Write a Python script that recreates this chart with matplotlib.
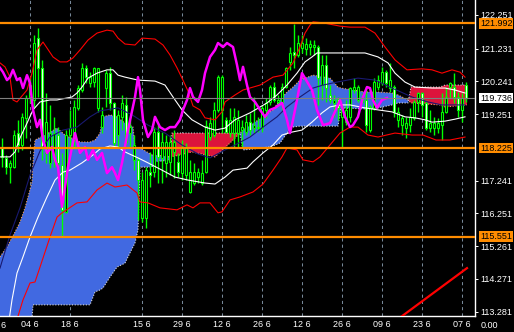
import matplotlib
matplotlib.use('Agg')
import matplotlib.pyplot as plt
import numpy as np

plt.rcParams['font.family'] = ['Liberation Sans', 'DejaVu Sans']

# daily candles, bar index 0..116
opens = [118.23, 117.93, 117.65, 117.65, 118.68, 118.32, 119.14, 119.77, 119.68, 121.55,
         120.65, 118.08, 117.78, 117.87, 118.62, 117.72, 116.30, 118.62, 118.47, 119.44,
         119.98, 120.65, 120.19, 120.22, 119.44, 118.86, 120.04, 120.49, 119.59, 118.62,
         119.17, 119.53, 118.68, 117.87, 117.87, 116.11, 116.11, 117.50, 117.50, 118.71,
         117.93, 117.78, 117.81, 118.11, 117.81, 117.47, 117.41, 116.90, 117.17, 117.35,
         117.17, 117.50, 118.56, 118.62, 119.38, 119.38, 119.08, 118.68, 118.68, 118.68,
         118.77, 118.71, 119.01, 118.83, 118.83, 118.83, 119.38, 119.62, 120.07, 119.62,
         119.62, 120.07, 120.83, 121.13, 121.04, 121.25, 121.22, 121.28, 121.28, 121.28,
         120.13, 120.74, 119.83, 119.59, 119.71, 119.17, 119.01, 119.17, 119.98, 119.68,
         119.62, 119.68, 118.77, 119.44, 120.07, 120.19, 120.52, 120.04, 120.07, 119.08,
         118.92, 118.83, 118.92, 119.14, 119.62, 119.89, 119.59, 118.83, 118.83, 118.83,
         118.92, 119.32, 120.07, 120.07, 119.77, 119.38, 120.13]
highs = [118.53, 118.02, 117.87, 118.77, 119.08, 119.29, 119.83, 120.37, 121.64, 121.85,
         120.89, 119.89, 119.53, 119.17, 118.86, 118.08, 118.77, 119.38, 119.68, 120.13,
         120.80, 120.74, 120.52, 120.68, 120.65, 119.47, 120.59, 120.68, 119.62, 119.38,
         119.83, 119.77, 119.08, 118.62, 117.96, 117.50, 117.65, 118.11, 118.86, 118.92,
         118.71, 118.62, 118.62, 118.77, 118.08, 118.47, 118.38, 117.87, 117.78, 117.62,
         117.87, 119.08, 119.17, 119.62, 120.43, 120.43, 119.17, 119.44, 119.44, 119.38,
         119.08, 119.23, 119.29, 119.77, 119.17, 119.53, 119.74, 120.13, 120.22, 119.83,
         120.19, 120.68, 121.28, 121.98, 121.64, 121.64, 121.55, 121.49, 121.49, 121.34,
         121.04, 121.04, 120.13, 119.83, 119.77, 119.53, 119.68, 120.07, 120.34, 120.13,
         119.89, 120.07, 119.53, 120.34, 120.43, 120.68, 120.59, 120.80, 120.13, 119.47,
         119.23, 119.17, 119.44, 119.68, 119.92, 119.92, 119.68, 119.38, 119.17, 119.14,
         119.89, 120.07, 120.22, 120.49, 119.92, 119.89, 120.22]
lows = [117.65, 117.44, 117.17, 117.62, 118.11, 118.17, 118.53, 119.59, 119.47, 119.77,
        117.87, 117.78, 117.62, 117.65, 117.35, 115.54, 116.27, 118.17, 118.23, 119.38,
        119.92, 120.19, 120.07, 120.07, 119.32, 118.68, 119.47, 119.38, 118.26, 118.26,
        118.77, 118.32, 118.26, 117.56, 116.05, 115.99, 115.81, 117.05, 117.35, 117.17,
        117.17, 117.35, 117.41, 117.32, 117.35, 117.26, 117.26, 116.87, 117.11, 117.17,
        117.11, 117.47, 118.47, 118.56, 119.32, 118.68, 118.68, 118.56, 118.23, 118.23,
        118.23, 118.62, 118.62, 118.68, 118.71, 118.71, 119.14, 119.53, 119.62, 119.53,
        119.38, 120.04, 120.59, 120.65, 120.98, 121.10, 121.04, 121.04, 121.04, 119.53,
        119.68, 119.62, 119.59, 119.17, 119.08, 118.23, 118.92, 119.01, 119.89, 119.62,
        119.59, 118.71, 118.71, 119.38, 119.98, 120.13, 120.07, 119.92, 119.17, 118.86,
        118.62, 118.53, 118.71, 119.08, 119.32, 119.17, 118.77, 118.71, 118.62, 118.68,
        118.47, 119.29, 119.74, 119.59, 119.17, 119.01, 119.62]
closes = [117.96, 117.65, 117.78, 118.62, 118.32, 119.17, 119.74, 120.13, 121.40, 120.65,
          118.23, 119.01, 118.68, 118.68, 117.78, 116.36, 118.62, 118.83, 119.47, 120.04,
          120.65, 120.37, 120.37, 120.65, 120.65, 119.23, 120.49, 119.59, 118.38, 119.23,
          119.59, 118.41, 118.86, 118.32, 117.26, 117.26, 117.56, 117.41, 118.71, 117.96,
          118.41, 118.41, 118.41, 118.41, 117.50, 118.23, 118.23, 117.50, 117.50, 117.50,
          117.47, 118.89, 118.98, 119.38, 120.37, 120.37, 118.71, 119.08, 119.17, 119.08,
          118.86, 119.01, 118.77, 118.92, 118.86, 119.44, 119.59, 120.07, 119.68, 119.68,
          120.07, 120.65, 121.10, 121.04, 121.40, 121.40, 121.37, 121.37, 121.34, 120.34,
          120.74, 120.04, 119.68, 119.68, 119.44, 119.47, 119.38, 120.04, 120.07, 120.07,
          119.74, 118.92, 119.47, 120.22, 120.28, 120.52, 120.19, 120.28, 119.32, 119.32,
          119.14, 118.98, 119.17, 119.62, 119.89, 119.53, 118.83, 118.98, 118.98, 118.98,
          119.32, 119.77, 120.19, 119.77, 119.38, 119.74, 119.74]

# bollinger bands (bar index, price)
bb_upper2 = [(-0.5, 120.80), (0.75, 120.68), (2, 120.37), (2.75, 119.68), (3.75, 119.62),
             (6.25, 119.98), (7.5, 120.49), (8.75, 121.19), (10.25, 121.43), (12.75, 120.98),
             (14.5, 120.83), (16.25, 120.83), (17.75, 120.95), (19.5, 121.19), (21.5, 121.49),
             (23.75, 121.70), (26.25, 121.79), (27.75, 121.76), (29, 121.55), (30.75, 121.37),
             (33.25, 121.34), (35, 121.55), (38.25, 121.52), (40.25, 121.34), (42, 121.04),
             (43.75, 120.65), (45, 120.34), (46.5, 119.95), (47.75, 119.50), (49.5, 119.38),
             (50.75, 119.14), (53.25, 119.08), (55, 119.32), (55.75, 119.62), (58.25, 119.83),
             (60.25, 119.98), (64.5, 120.13), (67.75, 120.37), (70.25, 120.43), (72.75, 120.80),
             (74.5, 121.28), (75.75, 121.70), (77, 121.94), (77.75, 122.04), (80.25, 122.01),
             (84.5, 121.91), (87, 121.88), (90.75, 121.88), (93.25, 121.70), (95.75, 121.28),
             (98.25, 120.89), (101.25, 120.59), (105, 120.62), (107.5, 120.59), (110, 120.49),
             (112.5, 120.59), (114.5, 120.52), (115.75, 120.37)]
bb_lower2 = [(3, 112.60), (4, 113.15), (5.25, 113.64), (7, 114.15), (8.25, 114.18), (9.5, 114.63),
             (12, 115.54), (13.75, 116.14), (15, 116.27), (18.75, 116.57), (21.25, 116.60),
             (23.75, 116.96), (26.25, 117.17), (28.25, 117.05), (31.25, 117.11), (33.75, 116.87),
             (34.5, 116.60), (36.5, 116.57), (39.5, 116.42), (43.75, 116.36), (46.25, 116.51),
             (47.75, 116.42), (49.5, 116.57), (52, 116.57), (54, 116.27), (55, 116.30),
             (57, 116.66), (59.5, 116.75), (62.75, 116.90), (65.25, 117.14), (67.75, 117.56),
             (70, 117.96), (71.25, 118.23), (73.75, 118.17), (75.25, 117.87), (77.75, 117.81),
             (79.5, 117.96), (82, 118.32), (84.5, 118.68), (87, 118.86), (89, 118.86),
             (91.5, 118.62), (94, 118.56), (98.25, 118.68), (102.5, 118.62), (105.25, 118.62),
             (108.5, 118.47), (112, 118.47), (115.75, 118.56)]
bb_upper1 = [(-0.5, 117.96), (2, 117.96), (3.25, 118.11), (4.5, 118.53), (6.25, 118.98),
             (7.75, 119.38), (9.5, 119.62), (12, 119.68), (13.75, 119.68), (16.25, 119.74),
             (17.5, 119.77), (18.75, 119.89), (20, 120.07), (21.5, 120.34), (23.75, 120.49),
             (26.25, 120.59), (27.75, 120.59), (29, 120.43), (30.75, 120.37), (34, 120.28),
             (38.25, 120.25), (40.75, 120.13), (42.75, 119.77), (45, 119.38), (47.5, 119.08),
             (50.75, 118.86), (53.25, 118.77), (55.75, 118.83), (58.25, 119.08), (62, 119.29),
             (66.25, 119.59), (68.75, 119.83), (71.25, 120.13), (73.75, 120.49), (75.75, 120.83),
             (77.5, 120.98), (78.75, 121.10), (82, 121.10), (87, 121.10), (90.75, 121.10),
             (94, 120.98), (96.5, 120.80), (98.25, 120.49), (100.75, 120.22), (103.25, 120.07),
             (107.5, 120.04), (110.75, 120.04), (113.25, 119.98), (115.75, 119.89)]
bb_lower1 = [(1.5, 112.80), (2.5, 113.64), (3.75, 114.45), (5.25, 114.94), (7, 115.54),
             (9, 116.14), (11.25, 116.75), (13.25, 117.26), (15.25, 117.50), (17, 117.56),
             (20, 117.78), (22.75, 118.02), (24.5, 118.20), (27, 118.29), (29, 118.26),
             (30.75, 118.11), (34, 117.93), (36.5, 117.78), (40, 117.56), (43.25, 117.35),
             (46.5, 117.26), (50.75, 117.17), (53.25, 117.14), (55.75, 117.35), (57.75, 117.56),
             (61.25, 117.62), (62.75, 117.81), (65.25, 118.08), (67.75, 118.32), (70, 118.62),
             (72.5, 118.71), (75, 118.77), (77.5, 119.01), (80, 119.29), (82, 119.47),
             (84.5, 119.53), (87, 119.53), (90.75, 119.44), (94, 119.38), (97.5, 119.32),
             (100.75, 119.17), (103.25, 119.14), (105.75, 119.08), (107.5, 119.01),
             (110.75, 119.04), (113.25, 119.10), (115.75, 119.17)]
kijun = [(-0.5, 114.60), (2, 115.60), (4.5, 116.42), (7, 117.41), (9.5, 118.14), (12, 118.56),
         (15.25, 118.77), (18.75, 118.86), (22, 119.17), (24.5, 119.35), (29, 119.44),
         (32.5, 119.23), (36.5, 118.92), (40.75, 118.68), (45, 118.32), (49, 118.05),
         (52, 117.93), (55.75, 118.17), (58.25, 118.32), (62, 118.56), (65.25, 118.86),
         (68.75, 119.17), (71.25, 119.47), (74.5, 119.77), (77.75, 120.04), (80.25, 120.13),
         (83.75, 120.22), (89, 120.34), (93.25, 120.28), (97.5, 120.04), (102.5, 119.77),
         (106.5, 119.62), (110, 119.53), (115.75, 119.53)]
chikou = [(-0.5, 120.65), (0.25, 120.52), (1.25, 120.28), (2, 120.37), (2.75, 120.59),
          (3.75, 120.28), (4.5, 120.34), (5.25, 120.04), (6.25, 120.43), (7, 120.19),
          (7.75, 119.38), (8.75, 118.86), (9.5, 119.08), (10.25, 118.47), (11.25, 118.08),
          (12.5, 118.26), (13.25, 117.87), (14, 117.65), (15, 116.45), (15.75, 117.05),
          (16.5, 117.65), (17.5, 118.26), (18.25, 118.68), (19.5, 118.08), (20.75, 118.26),
          (21.5, 117.87), (22.75, 118.17), (23.75, 117.87), (25, 118.08), (26.25, 117.47),
          (27.5, 117.65), (28.25, 117.47), (29, 117.26), (30, 117.78), (31.5, 118.77),
          (33.25, 119.77), (34, 120.37), (34.5, 119.98), (35.25, 119.08), (36.5, 118.56),
          (37.5, 118.77), (38.25, 119.17), (39.5, 118.86), (40.75, 118.77), (42, 118.86),
          (43.25, 118.86), (44.5, 119.08), (45.25, 119.38), (46.25, 119.68), (47, 120.04),
          (47.75, 119.77), (49, 119.62), (50, 119.98), (50.75, 120.49), (52, 120.98),
          (53.25, 121.19), (54, 121.40), (55.25, 121.28), (56.25, 121.40), (57.75, 121.28),
          (58.75, 120.74), (59.5, 120.28), (60.25, 120.68), (61.25, 120.13), (62, 119.77),
          (63.25, 119.62), (64.5, 119.38), (65.75, 119.17), (67, 119.38), (68.25, 119.44),
          (70, 119.59), (71.25, 119.08), (72, 118.68), (72.75, 119.08), (73.75, 119.68),
          (75, 120.49), (75.75, 120.34), (77.5, 119.98), (78.75, 119.38), (80.25, 118.92),
          (82, 118.98), (83.75, 119.47), (84.5, 119.68), (85.75, 119.17), (87, 118.86),
          (87.75, 118.92), (89, 119.17), (90.25, 119.77), (91.25, 120.07), (92, 120.04),
          (92.75, 119.68), (93.75, 119.44), (95, 119.68), (96.25, 119.74)]
# ichimoku cloud: (bar index, senkou span A, senkou span B)
cloud = [(-0.5, 114.94, 112.58), (1.25, 115.24, 112.58), (3.25, 115.69, 112.64),
         (4.5, 115.99, 112.73), (5.75, 116.42, 112.88), (6.5, 116.75, 112.97),
         (7.5, 117.20, 113.09), (7.75, 117.78, 113.49), (8.25, 118.47, 113.49),
         (10.75, 118.62, 113.49), (13.75, 118.83, 113.49), (15.75, 118.62, 113.49),
         (19.5, 118.41, 113.49), (22, 118.41, 113.49), (23.25, 118.47, 113.88),
         (24.5, 118.68, 113.94), (25.25, 119.17, 114.00), (27, 119.23, 114.33),
         (28.75, 119.17, 114.63), (30.75, 118.98, 114.75), (32, 118.92, 115.06),
         (32.75, 118.86, 115.24), (33.25, 118.26, 115.36), (34, 118.23, 115.75),
         (34.25, 118.23, 116.66), (34.5, 118.23, 117.65), (37.5, 118.02, 117.65),
         (38.25, 118.02, 117.81), (42, 117.96, 117.87), (42.5, 117.96, 118.68),
         (47.5, 118.11, 118.68), (53.25, 117.96, 118.68), (57, 118.38, 118.68),
         (59.5, 118.68, 118.68), (60.25, 118.77, 118.17), (65.25, 119.17, 118.23),
         (67.75, 119.38, 118.29), (69.5, 119.68, 118.38), (71.25, 119.92, 118.68),
         (72.5, 120.04, 118.86), (74.5, 120.28, 118.89), (77.75, 120.43, 118.89),
         (82, 120.34, 118.89), (84, 120.07, 118.89), (84.75, 120.04, 119.44),
         (90.75, 119.92, 119.41), (94, 119.92, 119.44), (97.5, 119.89, 119.53),
         (99, 119.83, 119.59), (101.5, 119.68, 119.59), (102.25, 119.59, 120.07),
         (109.5, 119.53, 120.07), (110.75, 119.47, 120.13), (116.25, 119.53, 120.13)]
trend_line = [(98, 112.97), (116.25, 114.60)]

date_pos = [7, 17, 35, 45, 55, 65, 75, 85, 95, 105, 115]
date_labels = ['04 6', '18 6', '15 6', '29 6', '12 6', '26 6', '12 6', '26 6', '09 6', '23 6', '07 6']
price_ticks = [122.251, 121.231, 120.241, 119.251, 117.241, 116.251, 115.261, 114.271, 113.281]
levels = [121.992, 118.225, 115.551]
last_price = 119.736

W, H = 514, 332
fig = plt.figure(figsize=(W / 100, H / 100), dpi=100, facecolor='black')
ax = fig.add_axes([0, 16 / H, 475 / W, 316 / H], facecolor='black')
ax.set_xlim(-0.5, 118.25)
ax.set_ylim(113.153, 122.70)

# dashed period separators
for p in date_pos:
    ax.axvline(p, color='#778899', lw=0.75, ls=(0, (3, 3)), zorder=0.5)

# cloud
cx = np.array([c[0] for c in cloud])
sa = np.array([c[1] for c in cloud])
sb = np.array([c[2] for c in cloud])
ax.fill_between(cx, sa, sb, where=sa >= sb, interpolate=True, color='#4169E1', lw=0, zorder=1)
ax.fill_between(cx, sa, sb, where=sa < sb, interpolate=True, color='#DC143C', lw=0, zorder=1)
ax.plot(cx, sa, color='#F4A460', lw=0.8, ls=(0, (1, 1.5)), zorder=1.5)
ax.plot(cx, sb, color='#D8D8D8', lw=0.8, ls=(0, (1, 1.5)), zorder=1.5)

# candles
idx = np.arange(len(opens))
o = np.array(opens)
c = np.array(closes)
ax.vlines(idx, lows, highs, color='#00FF00', lw=1.0, zorder=2)
fills = ['white' if cl < op else 'black' for op, cl in zip(opens, closes)]
ax.bar(idx, np.maximum(np.abs(c - o), 0.02), bottom=np.minimum(o, c), width=0.68,
       color=fills, edgecolor='#00FF00', linewidth=0.8, zorder=2.2)


def line(pts, **kw):
    xs, ys = zip(*pts)
    ax.plot(xs, ys, **kw)


line(bb_upper2, color='#FF0000', lw=0.8, zorder=3)
line(bb_lower2, color='#FF0000', lw=0.8, zorder=3)
line(bb_upper1, color='white', lw=0.8, zorder=3)
line(bb_lower1, color='white', lw=0.8, zorder=3)
line(kijun, color='#191970', lw=0.8, zorder=3)
line(chikou, color='#FF00FF', lw=1.8, zorder=3.2)
line(trend_line, color='#FF0000', lw=1.6, zorder=3)

# horizontal levels
ax.axhline(last_price, color='#808080', lw=0.8, zorder=3.5)
for lv in levels:
    ax.axhline(lv, color='#FF8C00', lw=1.6, zorder=4)

# axes frame
for s in ['top', 'left']:
    ax.spines[s].set_visible(False)
for s in ['right', 'bottom']:
    ax.spines[s].set_color('white')
    ax.spines[s].set_linewidth(1.0)

ax.yaxis.tick_right()
ax.set_yticks(price_ticks, [f'{p:.3f}' for p in price_ticks])
ax.tick_params(axis='y', colors='white', length=2.2, width=0.7, pad=1.5, labelsize=6.5)
ax.set_xticks(date_pos, date_labels)
ax.tick_params(axis='x', colors='white', length=0, pad=3, labelsize=6.5)
# partly hidden label at the left edge of the time scale
fig.text(0.5 / W, 7 / H, '6', color='white', fontsize=6.5, ha='left', va='center')

tr = ax.get_yaxis_transform()
for lv in levels:
    ax.text(1 + 5 / 475, lv, f'{lv:.3f}', transform=tr, va='center', ha='left', fontsize=6.5,
            color='black', clip_on=False, zorder=10,
            bbox=dict(boxstyle='square,pad=0.08', fc='#FF8C00', ec='none'))
ax.text(1 + 5 / 475, last_price, f'{last_price:.3f}', transform=tr, va='center', ha='left',
        fontsize=6.5, color='black', clip_on=False, zorder=10,
        bbox=dict(boxstyle='square,pad=0.08', fc='white', ec='none'))
fig.text(481 / W, 7 / H, '0.00', color='white', fontsize=6.5, va='center', ha='left')

fig.savefig('out.png', dpi=100, facecolor='black')
